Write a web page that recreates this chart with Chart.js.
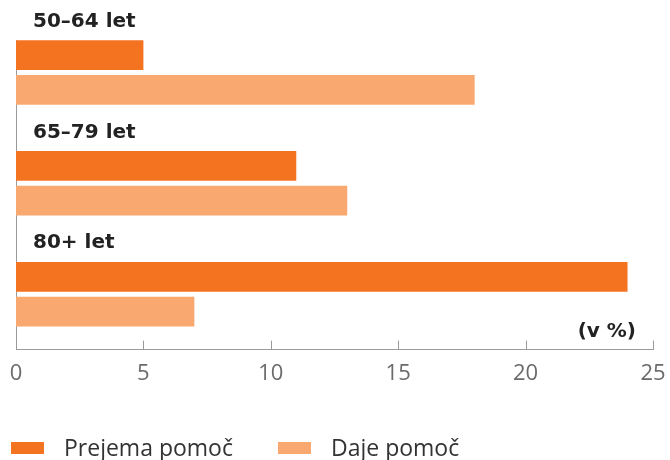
<!DOCTYPE html>
<html><head><meta charset="utf-8">
<script src="https://cdn.jsdelivr.net/npm/chart.js@4"></script>
<style>html,body{margin:0;padding:0;background:#fff}#wrap{width:670px;height:460px;position:relative}</style>
</head><body><div id="wrap"><canvas id="c" width="670" height="460"></canvas></div>
<script>
const categories = ['50–64 let', '65–79 let', '80+ let'];
const seriesNames = ['Prejema pomoč', 'Daje pomoč'];
const prejemaPomoc = [5, 11, 24];
const dajePomoc = [18, 13, 7];
const xTickValues = [0, 5, 10, 15, 20, 25];
const unitLabel = '(v %)';
const colors = ['#F37321', '#F9A86F'];

const decor = {
  id: 'decor',
  beforeDatasetsDraw(chart) {
    const ctx = chart.ctx, xs = chart.scales.x, ca = chart.chartArea;
    const bar = chart.getDatasetMeta(0).data[0];
    const top = bar.y - bar.height / 2;
    const x0 = Math.round(xs.getPixelForValue(0)) + 0.5;
    ctx.save();
    ctx.strokeStyle = '#9a9a9a'; ctx.lineWidth = 1;
    ctx.beginPath(); ctx.moveTo(x0, top); ctx.lineTo(x0, ca.bottom); ctx.stroke();
    xs.ticks.forEach(t => {
      const px = Math.round(xs.getPixelForValue(t.value)) + 0.5;
      ctx.beginPath(); ctx.moveTo(px, ca.bottom - 9); ctx.lineTo(px, ca.bottom); ctx.stroke();
    });
    ctx.restore();
  },
  afterDraw(chart) {
    const ctx = chart.ctx, xs = chart.scales.x, ca = chart.chartArea;
    ctx.save();
    ctx.fillStyle = '#222';
    ctx.font = 'bold 20px "DejaVu Sans"';
    ctx.textAlign = 'right'; ctx.textBaseline = 'alphabetic';
    ctx.fillText(unitLabel, xs.getPixelForValue(25) - 17, ca.bottom - 13);
    // legend
    ctx.font = '23px "Open Sans"';
    ctx.textAlign = 'left';
    let x = 11;
    chart.data.datasets.forEach((ds, i) => {
      ctx.fillStyle = ds.backgroundColor;
      ctx.fillRect(x, 442, 33, 12);
      ctx.fillStyle = '#333';
      ctx.fillText(ds.label, x + 53, 456);
      x = x + 53 + ctx.measureText(ds.label).width + 45;
    });
    ctx.restore();
  }
};

new Chart(document.getElementById('c'), {
  type: 'bar',
  data: {
    labels: categories,
    datasets: [
      { label: seriesNames[0], data: prejemaPomoc, backgroundColor: colors[0], barPercentage: 0.857, categoryPercentage: 0.627 },
      { label: seriesNames[1], data: dajePomoc, backgroundColor: colors[1], barPercentage: 0.857, categoryPercentage: 0.627 }
    ]
  },
  options: {
    indexAxis: 'y',
    responsive: false,
    devicePixelRatio: 1,
    animation: false,
    layout: { padding: { left: 16, right: 17, top: 17, bottom: 62 } },
    plugins: { legend: { display: false }, tooltip: { enabled: false } },
    scales: {
      x: {
        min: 0, max: 25,
        afterBuildTicks(s) { s.ticks = xTickValues.map(v => ({ value: v })); },
        afterFit(s) { s.paddingLeft = 0; s.paddingRight = 0; },
        grid: { display: false, drawTicks: false },
        border: { display: true, color: '#9a9a9a', width: 1 },
        ticks: { padding: 11, color: '#6b6b6b', font: { family: 'Open Sans', size: 22 } }
      },
      y: {
        afterFit(s) { s.width = 0; s.paddingTop = 0; s.paddingBottom = 0; },
        grid: { display: false, drawTicks: false },
        border: { display: false },
        ticks: {
          mirror: true, padding: 17, labelOffset: -51,
          color: '#222', font: { family: 'DejaVu Sans', size: 20, weight: 'bold' }
        }
      }
    }
  },
  plugins: [decor]
});
</script></body></html>
